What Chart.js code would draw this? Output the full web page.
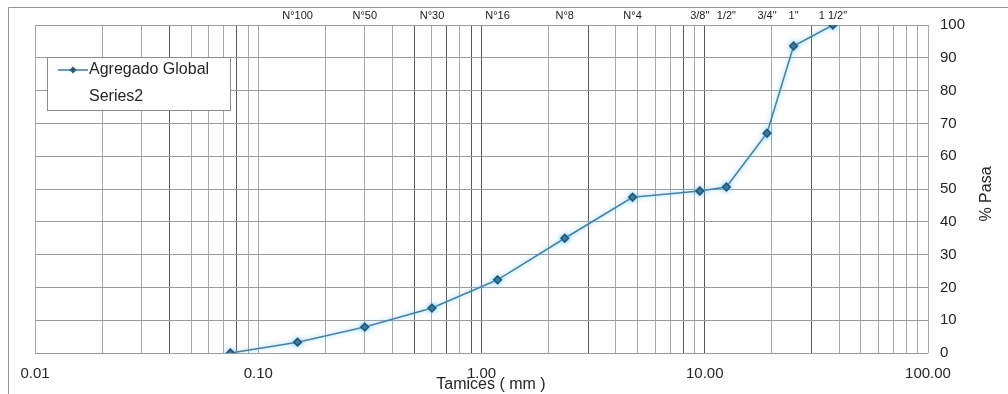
<!DOCTYPE html>
<html>
<head>
<meta charset="utf-8">
<script src="https://cdn.jsdelivr.net/npm/chart.js@4/dist/chart.umd.min.js"></script>
<style>
  html, body { margin: 0; padding: 0; background: #ffffff; }
  #wrap { position: relative; width: 1008px; height: 394px; }
</style>
</head>
<body>
<div id="wrap"><canvas id="curva" width="1008" height="394"></canvas></div>
<script>
// Sieve openings (mm) and percent passing
const sieveSizes  = [0.075, 0.15, 0.3, 0.6, 1.18, 2.36, 4.75, 9.5, 12.5, 19, 25, 37.5];
const percentPass = [0, 3.3, 7.9, 13.7, 22.3, 35, 47.5, 49.4, 50.6, 67, 93.6, 100];

// Sieve names printed along the top edge
const sieveNames  = ['N°100', 'N°50', 'N°30', 'N°16', 'N°8', 'N°4', '3/8"', '1/2"', '3/4"', '1"', '1 1/2"'];
const sieveMarks  = [0.15, 0.3, 0.6, 1.18, 2.36, 4.75, 9.5, 12.5, 19, 25, 37.5];

// Bottom axis labels (decades)
const decadeValues = [0.01, 0.1, 1, 10, 100];
const decadeLabels = ['0.01', '0.10', '1.00', '10.00', '100.00'];

// Y axis ticks
const yTicks = [0, 10, 20, 30, 40, 50, 60, 70, 80, 90, 100];

const seriesNames = ['Agregado Global', 'Series2'];

// Log grid positions: 1..9 x each decade between 0.01 and 100
const logGrid = [];
for (let e = -2; e <= 1; e++) {
  for (let m = 1; m <= 9; m++) {
    logGrid.push(e < 0 ? m / Math.pow(10, -e) : m * Math.pow(10, e));
  }
}
logGrid.push(100);

// Grid lines printed heavier on the sheet
const heavyLines = [0.04, 0.08, 0.5, 0.7, 0.9, 1, 3, 8, 10, 30];
const near = (a, b) => Math.abs(a - b) < 1e-9 * Math.max(1, b);

const FONT = "'Liberation Sans', Arial, sans-serif";
const TEXT = '#262626';
const LINE = '#4283ad';
const MARK = '#22597a';

const framePlugin = {
  id: 'frame',
  beforeDraw(chart) {
    const c = chart.ctx;
    c.save();
    c.fillStyle = '#ffffff';
    c.fillRect(0, 0, chart.width, chart.height);
    c.strokeStyle = '#9a9a9a';
    c.lineWidth = 1;
    c.beginPath();
    c.moveTo(8.5, 394);
    c.lineTo(8.5, 7.5);
    c.lineTo(1008, 7.5);
    c.stroke();
    c.restore();
  },
  beforeDatasetDraw(chart) {
    const c = chart.ctx;
    c.save();
    c.shadowColor = 'rgba(110, 200, 245, 0.85)';
    c.shadowBlur = 5;
  },
  afterDatasetDraw(chart) {
    chart.ctx.restore();
  },
  afterDraw(chart) {
    const c = chart.ctx;
    c.save();
    // legend box
    c.fillStyle = '#ffffff';
    c.fillRect(47, 57, 183, 53);
    c.strokeStyle = '#8c8c8c';
    c.lineWidth = 1;
    c.strokeRect(47.5, 57.5, 183, 53);
    // first entry: line with marker
    const ds = chart.data.datasets;
    c.strokeStyle = ds[0].borderColor;
    c.lineWidth = 1.6;
    c.beginPath();
    c.moveTo(58, 70);
    c.lineTo(88, 70);
    c.stroke();
    c.fillStyle = MARK;
    c.beginPath();
    c.moveTo(73, 66.5); c.lineTo(76.5, 70); c.lineTo(73, 73.5); c.lineTo(69.5, 70);
    c.closePath();
    c.fill();
    c.fillStyle = TEXT;
    c.font = '16px ' + FONT;
    c.textBaseline = 'middle';
    c.textAlign = 'left';
    c.fillText(ds[0].label, 89, 70);
    c.fillText(ds[1].label, 89, 97);

    // axis titles
    c.font = '16px ' + FONT;
    c.textAlign = 'center';
    c.fillText('Tamices ( mm )', 491, 385);
    c.translate(987, 194);
    c.rotate(-Math.PI / 2);
    c.font = '16px ' + FONT;
    c.fillText('% Pasa', 0, 0);
    c.restore();
  }
};

new Chart(document.getElementById('curva'), {
  type: 'line',
  data: {
    datasets: [
      {
        label: seriesNames[0],
        data: sieveSizes.map((x, i) => ({ x: x, y: percentPass[i] })),
        borderColor: LINE,
        borderWidth: 1.6,
        pointStyle: 'rectRot',
        pointRadius: 3.8,
        pointBackgroundColor: MARK,
        pointBorderColor: MARK,
        tension: 0,
        fill: false,
        xAxisID: 'x',
        yAxisID: 'y'
      },
      {
        label: seriesNames[1],
        data: [],
        borderColor: 'rgba(0,0,0,0)',
        pointRadius: 0,
        xAxisID: 'x',
        yAxisID: 'y'
      }
    ]
  },
  plugins: [framePlugin],
  options: {
    responsive: false,
    animation: false,
    layout: { padding: { left: 35, right: 0, top: 0, bottom: 0 } },
    plugins: {
      legend: { display: false },
      tooltip: { enabled: false }
    },
    scales: {
      x: {
        type: 'logarithmic',
        position: 'bottom',
        min: 0.01,
        max: 100,
        afterBuildTicks: s => { s.ticks = logGrid.map(v => ({ value: v })); },
        afterFit: s => { s.height = 41; },
        ticks: {
          autoSkip: false,
          maxRotation: 0,
          padding: 12,
          color: TEXT,
          font: { family: FONT, size: 15 },
          callback: v => {
            const k = decadeValues.findIndex(d => near(v, d));
            return k >= 0 ? decadeLabels[k] : '';
          }
        },
        grid: {
          drawTicks: false,
          lineWidth: 1,
          color: ctx => (ctx.tick && heavyLines.some(h => near(ctx.tick.value, h))) ? '#5a5a5a' : '#a8a8a8'
        },
        border: { display: false }
      },
      xTop: {
        type: 'logarithmic',
        position: 'top',
        min: 0.01,
        max: 100,
        afterBuildTicks: s => { s.ticks = sieveMarks.map(v => ({ value: v })); },
        afterFit: s => { s.height = 25; },
        ticks: {
          autoSkip: false,
          maxRotation: 0,
          padding: 2,
          color: '#1a1a1a',
          font: { family: FONT, size: 11 },
          callback: (v, i) => sieveNames[i]
        },
        grid: { display: false, drawTicks: false },
        border: { display: false }
      },
      y: {
        position: 'right',
        min: 0,
        max: 100,
        afterBuildTicks: s => { s.ticks = yTicks.map(v => ({ value: v })); },
        afterFit: s => { s.width = 80; },
        ticks: {
          padding: 12,
          color: TEXT,
          font: { family: FONT, size: 15 }
        },
        grid: { drawTicks: false, color: '#9c9c9c', lineWidth: 1 },
        border: { display: false }
      }
    }
  }
});
</script>
</body>
</html>
